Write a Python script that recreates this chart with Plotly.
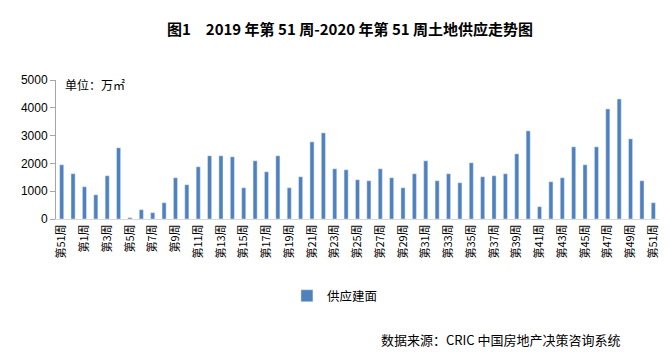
import plotly.graph_objects as go

weeks = ["2019年第51周", "2019年第52周"] + [f"2020年第{w}周" for w in range(1, 52)]
week_labels = ["第51周", "第52周"] + [f"第{w}周" for w in range(1, 52)]
supply = [1950, 1630, 1160, 870, 1555, 2560, 50, 335, 227, 586,
          1483, 1232, 1878, 2273, 2273, 2237, 1124, 2093, 1699, 2273,
          1124, 1519, 2775, 3098, 1806, 1770, 1411, 1376, 1806, 1483,
          1124, 1627, 2093, 1376, 1627, 1304, 2022, 1519, 1555, 1627,
          2344, 3170, 443, 1340, 1483, 2596, 1950, 2596, 3959, 4318,
          2883, 1376, 586]
y_ticks = [0, 1000, 2000, 3000, 4000, 5000]

tickvals = weeks[::2]
ticktext = week_labels[::2]

font_cjk = "Noto Sans CJK SC"

fig = go.Figure()
fig.add_trace(go.Bar(x=weeks, y=supply, name="供应建面", marker_color="#4F81BD"))

fig.update_layout(
    width=670, height=360,
    margin=dict(l=56, r=11, t=80, b=141),
    paper_bgcolor="white", plot_bgcolor="white",
    bargap=0.64,
    font=dict(family=font_cjk, color="black", size=12),
    title=dict(text="<b>图1　2019 年第 51 周-2020 年第 51 周土地供应走势图</b>",
               xref="container", x=350 / 670, xanchor="center", y=1 - 30 / 360, yanchor="middle",
               font=dict(size=15, family=font_cjk)),
    showlegend=True,
    legend=dict(orientation="h", x=0.383, xanchor="left", y=-0.555, yanchor="middle",
                font=dict(size=12.5, family=font_cjk)),
    xaxis=dict(type="category", tickmode="array", tickvals=tickvals, ticktext=ticktext,
               tickangle=-90, tickfont=dict(size=11, family=font_cjk),
               showline=True, linecolor="#D9D9D9", linewidth=1, ticks="",
               showgrid=False),
    yaxis=dict(range=[0, 5000], tickvals=y_ticks, showgrid=False, zeroline=False,
               showline=True, linecolor="#A6A6A6", linewidth=1,
               ticks="outside", ticklen=5, tickcolor="#A6A6A6",
               tickfont=dict(size=12, family="Liberation Sans")),
    annotations=[
        dict(text="单位：万㎡", xref="paper", yref="paper", x=0.012, y=0.97,
             xanchor="left", yanchor="middle", showarrow=False,
             font=dict(size=12, family=font_cjk)),
        dict(text="数据来源：CRIC 中国房地产决策咨询系统", xref="paper", yref="paper",
             x=0.94, y=-0.87, xanchor="right", yanchor="middle", showarrow=False,
             font=dict(size=13, family=font_cjk)),
    ],
)

fig.write_html("out.html", config={"displayModeBar": False},
               post_script="document.body.style.margin='0';")
